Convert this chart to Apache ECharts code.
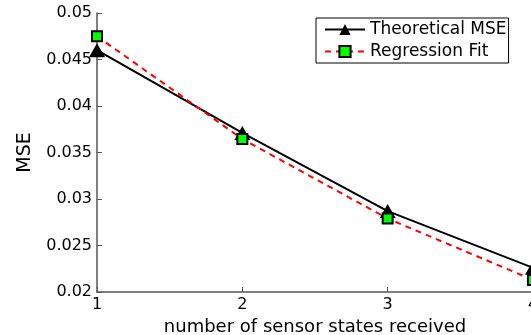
<!DOCTYPE html>
<html>
<head>
<meta charset="utf-8">
<script src="https://cdn.jsdelivr.net/npm/echarts@6/dist/echarts.min.js"></script>
<style>
html,body{margin:0;padding:0;background:#fff;}
#chart{width:531px;height:335px;}
</style>
</head>
<body>
<div id="chart"></div>
<script>
// data
var sensorStates = [1, 2, 3, 4];
var theoreticalMSE = [0.0460, 0.0371, 0.0287, 0.0226];
var regressionFit = [0.0475, 0.03645, 0.0279, 0.0213];
var yTicks = [0.02, 0.025, 0.03, 0.035, 0.04, 0.045, 0.05];

function pairs(xs, ys) {
	return xs.map(function(x, i){ return [x, ys[i]]; });
}

var myChart = echarts.init(document.getElementById('chart'));
var font = 'DejaVu Sans';

var option = {
	animation: false,
	backgroundColor: '#fff',
	grid: { left: 97, top: 13, width: 436, height: 279, containLabel: false, outerBoundsMode: 'none' },
	legend: {
		orient: 'vertical',
		left: 316, top: 18,
		padding: [3, 2, 3, 8],
		itemWidth: 40, itemHeight: 14, itemGap: 5,
		backgroundColor: '#fff',
		borderColor: '#000', borderWidth: 1,
		textStyle: { fontFamily: font, fontSize: 17, color: '#000' },
		data: ['Theoretical MSE', 'Regression Fit']
	},
	xAxis: {
		type: 'value',
		min: sensorStates[0], max: sensorStates[sensorStates.length - 1], interval: 1,
		name: 'number of sensor states received',
		nameLocation: 'middle', nameGap: 23,
		nameTextStyle: { fontFamily: font, fontSize: 18, color: '#000' },
		axisLine: { lineStyle: { color: '#555', width: 1.5 } },
		axisTick: { inside: true, length: 5, lineStyle: { color: '#555' } },
		axisLabel: { fontFamily: font, fontSize: 16, color: '#000', margin: 5 },
		splitLine: { show: false }
	},
	yAxis: {
		type: 'value',
		min: yTicks[0], max: yTicks[yTicks.length - 1], interval: 0.005,
		name: 'MSE',
		nameLocation: 'middle', nameGap: 62,
		nameTextStyle: { fontFamily: font, fontSize: 19, color: '#000' },
		axisLine: { show: true, lineStyle: { color: '#555', width: 1.5 } },
		axisTick: { show: true, inside: true, length: 5, lineStyle: { color: '#555' } },
		axisLabel: {
			fontFamily: font, fontSize: 16, color: '#000', margin: 5,
			formatter: function(v){ return String(+v.toFixed(4)); }
		},
		splitLine: { show: false }
	},
	series: [
		{
			name: 'Theoretical MSE',
			type: 'line',
			data: pairs(sensorStates, theoreticalMSE),
			symbol: 'triangle',
			symbolSize: [16, 14],
			itemStyle: { color: '#000' },
			lineStyle: { color: '#000', width: 2 }
		},
		{
			name: 'Regression Fit',
			type: 'line',
			data: pairs(sensorStates, regressionFit),
			symbol: 'rect',
			symbolSize: 10,
			itemStyle: { color: '#00ff00', borderColor: '#000', borderWidth: 2 },
			lineStyle: { color: '#ff0000', width: 2, type: [6, 5] }
		}
	]
};

myChart.setOption(option);
</script>
</body>
</html>
